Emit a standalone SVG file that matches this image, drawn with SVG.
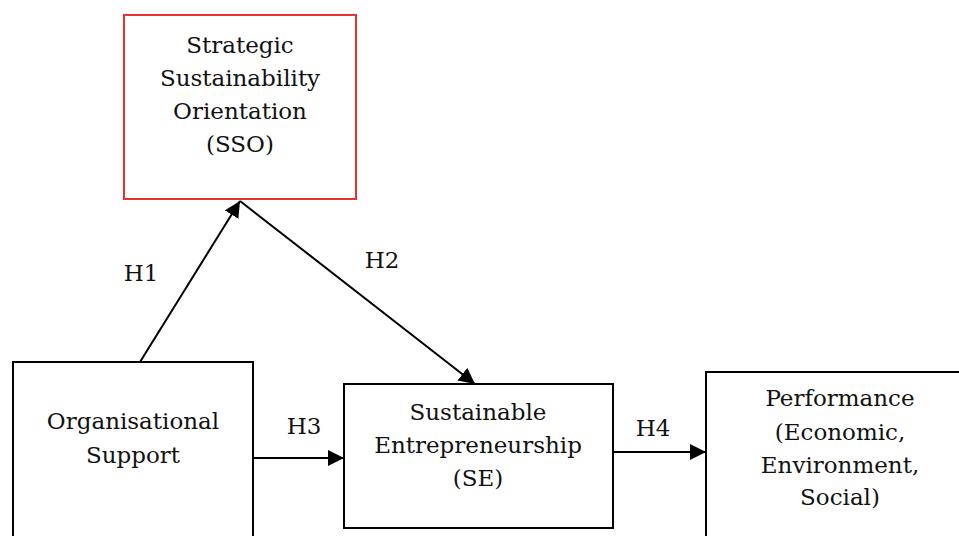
<svg xmlns="http://www.w3.org/2000/svg" width="959" height="536" viewBox="0 0 959 536">
<defs>
<marker id="arr" viewBox="0 0 10 10" refX="10" refY="5" markerWidth="16" markerHeight="16" markerUnits="userSpaceOnUse" orient="auto">
<path d="M0,0 L10,5 L0,10 z" fill="#000"/>
</marker>
<style>
.box{fill:#fff;stroke:#000;stroke-width:2}
.red{stroke:#e8302e}
.t{font-family:'DejaVu Serif','Liberation Serif',serif;font-size:23px;fill:#111;text-anchor:middle}
.edge{stroke:#000;stroke-width:2;fill:none;marker-end:url(#arr)}
</style>
</defs>
<rect width="959" height="536" fill="#fff"/>
<g id="sso">
<rect class="box red" x="124" y="15" width="232" height="184"/>
<text class="t" x="240" y="53">Strategic</text>
<text class="t" x="240" y="86">Sustainability</text>
<text class="t" x="240" y="119">Orientation</text>
<text class="t" x="240" y="152">(SSO)</text>
</g>
<g id="org">
<rect class="box" x="13" y="362" width="240" height="190"/>
<text class="t" x="133" y="429">Organisational</text>
<text class="t" x="133" y="463">Support</text>
</g>
<g id="se">
<rect class="box" x="344" y="384" width="269" height="144"/>
<text class="t" x="478" y="420">Sustainable</text>
<text class="t" x="478" y="453">Entrepreneurship</text>
<text class="t" x="478" y="486">(SE)</text>
</g>
<g id="perf">
<rect class="box" x="706" y="372" width="270" height="180"/>
<text class="t" x="840" y="406">Performance</text>
<text class="t" x="840" y="440">(Economic,</text>
<text class="t" x="840" y="473">Environment,</text>
<text class="t" x="840" y="505">Social)</text>
</g>
<g id="connectors">
<line class="edge" x1="140" y1="362" x2="240" y2="201"/>
<line class="edge" x1="240" y1="201" x2="475" y2="384"/>
<line class="edge" x1="254" y1="458" x2="344" y2="458"/>
<line class="edge" x1="614" y1="452" x2="706" y2="452"/>
<text class="t" x="141" y="281">H1</text>
<text class="t" x="382" y="268">H2</text>
<text class="t" x="304" y="434">H3</text>
<text class="t" x="653" y="436">H4</text>
</g>
</svg>
